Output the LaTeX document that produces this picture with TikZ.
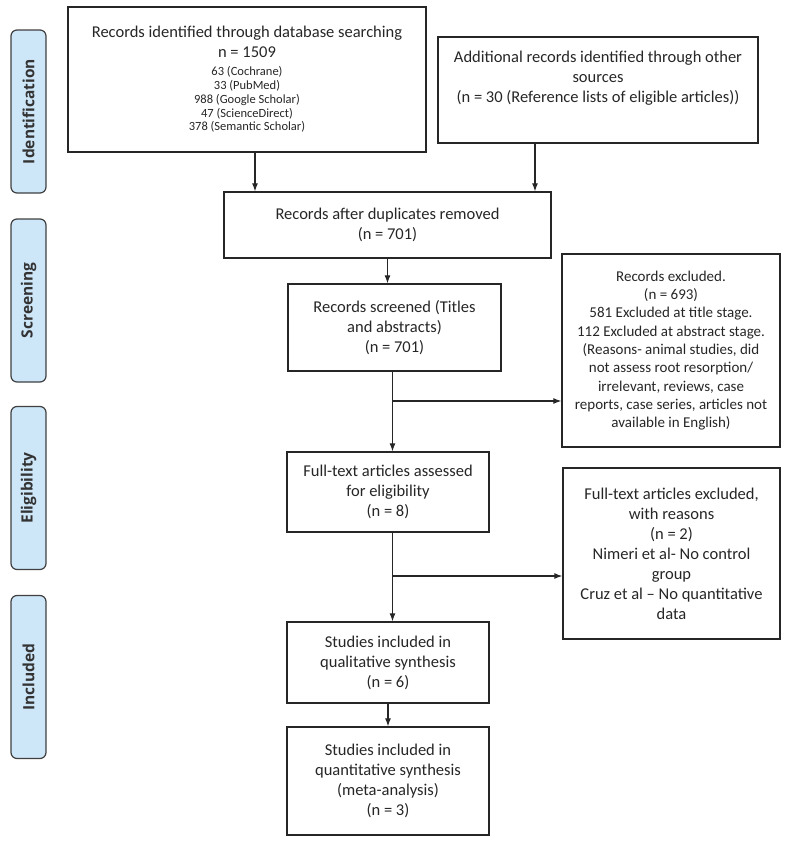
\documentclass[tikz,border=0pt]{standalone}
\usepackage{fontspec}
\setmainfont{Carlito}
\newfontfamily\phasefont{Open Sans}
\usetikzlibrary{arrows.meta,positioning,calc}
\definecolor{phaseblue}{RGB}{205,230,248}

\begin{document}
\begin{tikzpicture}[x=1pt,y=-1pt,
      box/.style={draw=black!85, line width=1.3pt, align=center, inner sep=0pt,
          text=black!85, font=\fontsize{16.5}{20}\selectfont},
      phase/.style={draw=black!75, fill=phaseblue, line width=1.2pt, rounded corners=6pt,
          rotate=90, minimum width=163, minimum height=35, inner sep=0pt,
          text=black!80, font=\phasefont\bfseries\fontsize{15.5}{17}\selectfont},
      arr/.style={-{Latex[length=8pt,width=6pt]}, line width=1.2pt, black!85}]

      \useasboundingbox (0,0) rectangle (789,844);

      % stages
      \node[phase] (ident)  at (28.5,111.5) {Identification};
      \node[phase] (screen) at (28.5,300.5) {Screening};
      \node[phase] (elig)   at (28.5,488)   {Eligibility};
      \node[phase] (incld)  at (28.5,677)   {Included};

      % boxes
      \node[box, minimum width=358, minimum height=145] (srch) at (247,79.5)
          {Records identified through database searching\\
           n = 1509\\[-2pt]
           {\fontsize{12.5}{13.75}\selectfont 63 (Cochrane)}\\[-6.25pt]
           {\fontsize{12.5}{13.75}\selectfont 33 (PubMed)}\\[-6.25pt]
           {\fontsize{12.5}{13.75}\selectfont 988 (Google Scholar)}\\[-6.25pt]
           {\fontsize{12.5}{13.75}\selectfont 47 (ScienceDirect)}\\[-6.25pt]
           {\fontsize{12.5}{13.75}\selectfont 378 (Semantic Scholar)}};
      \node[box, minimum width=320, minimum height=106] (other) at (598,90)
          {Additional records identified through other\\ sources\\
           (n = 30 (Reference lists of eligible articles))\\ \strut};
      \node[box, minimum width=327, minimum height=66] (dup) at (387.5,225)
          {Records after duplicates removed\\ (n = 701)};
      \node[box, minimum width=213, minimum height=87] (scr) at (394.5,327.5)
          {Records screened (Titles\\ and abstracts)\\ (n = 701)};
      \node[box, minimum width=218, minimum height=193,
          font=\fontsize{15}{18.3}\selectfont] (excl) at (671,350.5)
          {Records excluded.\\ (n = 693)\\ 581 Excluded at title stage.\\
           112 Excluded at abstract stage.\\ (Reasons- animal studies, did\\
           not assess root resorption/\\ irrelevant, reviews, case\\
           reports, case series, articles not\\ available in English)};
      \node[box, minimum width=202, minimum height=80] (full) at (388,492)
          {Full-text articles assessed\\ for eligibility\\ (n = 8)};
      \node[box, minimum width=217, minimum height=171] (ftx) at (671.5,553.5)
          {Full-text articles excluded,\\ with reasons\\ (n = 2)\\
           Nimeri et al- No control\\ group\\ Cruz et al -- No quantitative\\ data};
      \node[box, minimum width=202, minimum height=81] (incl) at (388,662.5)
          {Studies included in\\ qualitative synthesis\\ (n = 6)};
      \node[box, minimum width=202, minimum height=108] (meta) at (388,781)
          {Studies included in\\ quantitative synthesis\\ (meta-analysis)\\ (n = 3)};

      % arrows
      \draw[arr] ([xshift=8]srch.south) -- ([xshift=8]srch.south |- dup.north);
      \draw[arr] ([xshift=-63]other.south) -- ([xshift=-63]other.south |- dup.north);
      \draw[arr] (dup.south) -- (dup.south |- scr.north);
      \coordinate (j1) at (392.5,401);
      \draw[arr] (j1 |- scr.south) -- (j1 |- full.north);
      \draw[arr] (j1) -- (j1 -| excl.west);
      \coordinate (j2) at (392.5,576);
      \draw[arr] (j2 |- full.south) -- (j2 |- incl.north);
      \draw[arr] (j2) -- (j2 -| ftx.west);
      \draw[arr] (incl) -- (meta);
\end{tikzpicture}
\end{document}
